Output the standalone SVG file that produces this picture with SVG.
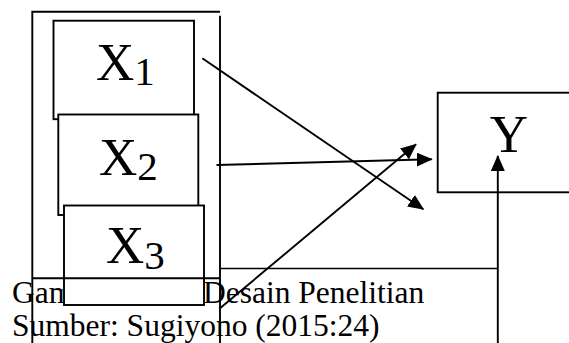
<svg xmlns="http://www.w3.org/2000/svg" width="569" height="343" viewBox="0 0 569 343">
<style>
.box{fill:#fff;stroke:#000;stroke-width:1.9}
.ln{fill:none;stroke:#000;stroke-width:1.9}
.thin{fill:none;stroke:#000;stroke-width:1.5}
.big{font-family:"Liberation Serif","Times New Roman","DejaVu Serif",serif;font-size:53px;fill:#000}
.sub{font-size:41px}
.cap{font-family:"Liberation Serif","Times New Roman","DejaVu Serif",serif;font-size:31.5px;fill:#000}
</style>
<defs>
<marker id="ah" markerWidth="16" markerHeight="14" refX="15" refY="7" orient="auto" markerUnits="userSpaceOnUse">
<path d="M0,0 L16,7 L0,14 Z" fill="#000"/>
</marker>
</defs>
<g id="caption">
<text class="cap" x="12" y="303">Gambar</text>
<text class="cap" x="203" y="303">Desain Penelitian</text>
<text class="cap" x="12" y="336">Sumber: Sugiyono (2015:24)</text>
</g>
<g id="X1">
<rect class="box" x="53.5" y="20.7" width="140.5" height="98.5"/>
<text class="big" x="96" y="80">X<tspan class="sub" dy="5">1</tspan></text>
</g>
<g id="X2">
<rect class="box" x="58.3" y="114.5" width="140" height="100.5"/>
<text class="big" x="99" y="175">X<tspan class="sub" dy="5">2</tspan></text>
</g>
<g id="X3">
<rect class="box" x="64" y="205.5" width="140" height="99.5"/>
<text class="big" x="106" y="263">X<tspan class="sub" dy="6">3</tspan></text>
</g>
<g id="frame">
<path class="ln" d="M32.3,343 V11.7 H220"/>
<path class="ln" d="M220,15.7 V343"/>
<path class="ln" d="M32.3,278.3 H220"/>
</g>
<g id="Y">
<rect class="box" x="437.7" y="92.7" width="140" height="99.6"/>
<text class="big" x="509" y="152" text-anchor="middle">Y</text>
</g>
<g id="connectors">
<line class="ln" x1="202.3" y1="58.3" x2="423.3" y2="209.3" marker-end="url(#ah)"/>
<line class="ln" x1="216.5" y1="165" x2="431.7" y2="159.2" marker-end="url(#ah)"/>
<line class="ln" x1="220" y1="308.3" x2="416" y2="144.3" marker-end="url(#ah)"/>
<path class="thin" d="M220,268.4 H498"/>
<line class="ln" x1="497.8" y1="343" x2="497.8" y2="156" marker-end="url(#ah)"/>
</g>
</svg>
